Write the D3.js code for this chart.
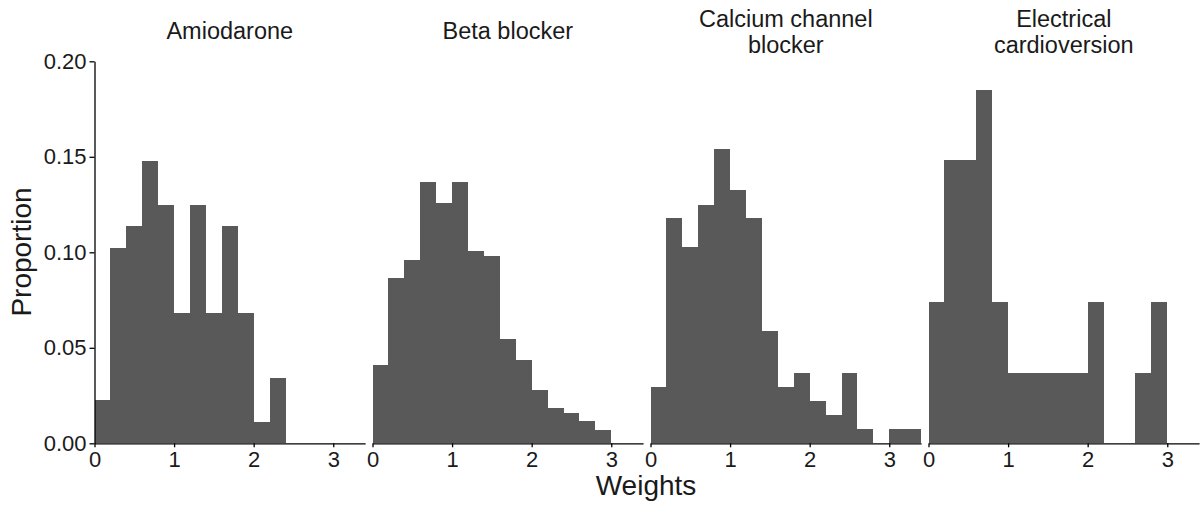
<html>
<head>
<script src="https://d3js.org/d3.v7.min.js"></script>
<style>
body { margin: 0; background: #fff; font-family: Arial, 'Liberation Sans', sans-serif; }
svg text { fill: #1a1a1a; }
.axis path, .axis line { stroke: #000; stroke-width: 1.3; }
rect.bar { fill: #595959; shape-rendering: crispEdges; }
</style>
</head>
<body>
<svg width="1203" height="509"></svg>

<script>
// bin edges of the histogram, width 0.2
var binStart = [0, 0.2, 0.4, 0.6, 0.8, 1.0, 1.2, 1.4, 1.6, 1.8, 2.0, 2.2, 2.4, 2.6, 2.8, 3.0, 3.2];
var binWidth = 0.2;

var panelTitles = [["Amiodarone"], ["Beta blocker"], ["Calcium channel", "blocker"], ["Electrical", "cardioversion"]];

var amiodarone = [0.0227, 0.1023, 0.1136, 0.1477, 0.125, 0.0682, 0.125, 0.0682, 0.1136, 0.0682, 0.0114, 0.0341, 0, 0, 0, 0, 0];
var betaBlocker = [0.041, 0.0867, 0.096, 0.1368, 0.1257, 0.1368, 0.1005, 0.0979, 0.0548, 0.0435, 0.0279, 0.0185, 0.016, 0.0115, 0.007, 0, 0];
var calciumBlocker = [0.0297, 0.1178, 0.1028, 0.125, 0.1543, 0.1325, 0.1178, 0.0588, 0.0297, 0.037, 0.0222, 0.0147, 0.037, 0.0075, 0, 0.0075, 0.0075];
var cardioversion = [0.0741, 0.1481, 0.1481, 0.1852, 0.0741, 0.037, 0.037, 0.037, 0.037, 0.037, 0.0741, 0, 0, 0.037, 0.0741, 0, 0];

var series = [amiodarone, betaBlocker, calciumBlocker, cardioversion];

var xTicks = [0, 1, 2, 3];
var yTicks = [0, 0.05, 0.10, 0.15, 0.20];

var svg = d3.select("svg");

var plotLeft = 94.5, step = 278, panelW = 270.6;
var plotTop = 61.3, plotBottom = 443.3;

var x = d3.scaleLinear().domain([0, 3.4]).range([0, panelW]);
var y = d3.scaleLinear().domain([0, 0.2]).range([plotBottom, plotTop]);

series.forEach(function (vals, i) {
	var g = svg.append("g").attr("transform", "translate(" + (plotLeft + i * step) + ",0)");

	var bins = vals.map(function (v, j) { return {x0: binStart[j], v: v}; })
		.filter(function (b) { return b.v > 0; });

	g.selectAll("rect.bar").data(bins).enter().append("rect").attr("class", "bar")
		.attr("x", function (b) { return x(b.x0); })
		.attr("width", function (b) { return x(b.x0 + binWidth) - x(b.x0); })
		.attr("y", function (b) { return y(b.v); })
		.attr("height", function (b) { return plotBottom - y(b.v); });

	var xa = g.append("g").attr("class", "axis")
		.attr("transform", "translate(0," + plotBottom + ")")
		.call(d3.axisBottom(x).tickValues(xTicks).tickFormat(d3.format("d"))
			.tickSize(4).tickSizeOuter(0).tickPadding(4));
	xa.attr("font-family", null).attr("font-size", null);
	xa.selectAll("text").style("font-size", "22px").attr("fill", "#1a1a1a");

	// facet title
	var lines = panelTitles[i];
	var t = g.append("text").attr("text-anchor", "middle")
		.attr("x", panelW / 2)
		.attr("y", lines.length == 1 ? 39 : 27.3)
		.style("font-size", "23.5px");
	lines.forEach(function (l, k) {
		t.append("tspan").attr("x", panelW / 2).attr("dy", k == 0 ? 0 : 25.4).text(l);
	});
});

var ya = svg.append("g").attr("class", "axis")
	.attr("transform", "translate(" + plotLeft + ",0)")
	.call(d3.axisLeft(y).tickValues(yTicks).tickFormat(d3.format(".2f"))
		.tickSize(5).tickSizeOuter(0).tickPadding(3));
ya.attr("font-family", null).attr("font-size", null);
ya.selectAll("text").style("font-size", "22px").attr("fill", "#1a1a1a");

svg.append("text").attr("text-anchor", "middle")
	.attr("transform", "translate(31,252) rotate(-90)")
	.style("font-size", "28px")
	.text("Proportion");

svg.append("text").attr("text-anchor", "middle")
	.attr("x", 646).attr("y", 495)
	.style("font-size", "28px")
	.text("Weights");
</script>
</body>
</html>
